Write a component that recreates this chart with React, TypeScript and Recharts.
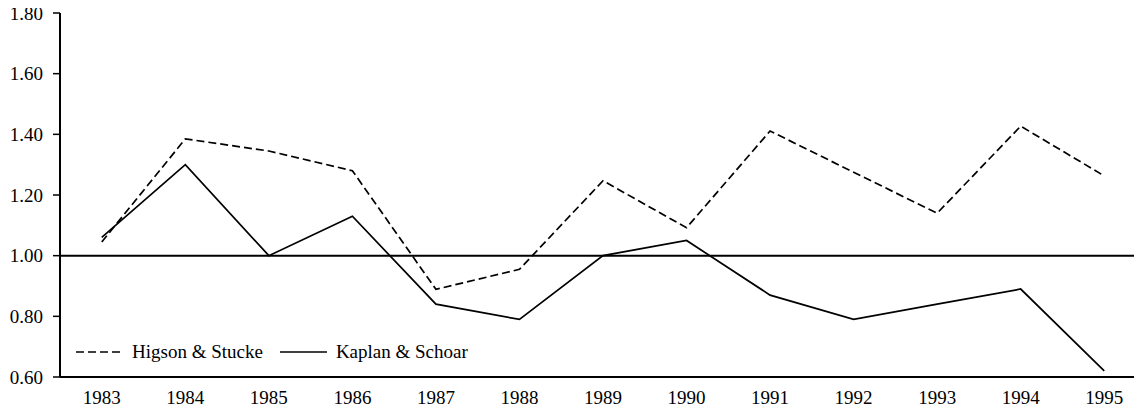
import React from 'react';
import { LineChart, Line, XAxis, YAxis, ReferenceLine, Legend } from 'recharts';

const years = [1983, 1984, 1985, 1986, 1987, 1988, 1989, 1990, 1991, 1992, 1993, 1994, 1995];
const higsonStucke = [1.045, 1.385, 1.345, 1.28, 0.889, 0.955, 1.247, 1.092, 1.411, 1.275, 1.14, 1.427, 1.263];
const kaplanSchoar = [1.06, 1.3, 1.0, 1.13, 0.84, 0.79, 1.0, 1.05, 0.87, 0.79, 0.84, 0.89, 0.62];
const yTicks = [0.6, 0.8, 1.0, 1.2, 1.4, 1.6, 1.8];

const FONT = '"Liberation Serif", "Times New Roman", serif';

// tick marks sit between the years, like a category axis
const bounds = years.map(y => y - 0.5).concat(years[years.length - 1] + 0.5);
const xDomain = [bounds[0], bounds[bounds.length - 1]];

const chartData = years.map((year, i) => ({
  year,
  hs: higsonStucke[i],
  ks: kaplanSchoar[i]
}));

const LegendContent = ({ payload }: any) => (
  <div style={{ display: 'flex', alignItems: 'center', fontFamily: FONT, fontSize: 19, color: '#000' }}>
    {(payload || []).map((entry: any, i: number) => (
      <div key={i} style={{ display: 'flex', alignItems: 'center', marginRight: 17 }}>
        <svg width={47} height={6} style={{ marginRight: 9 }}>
          <line
            x1={0}
            y1={3}
            x2={47}
            y2={3}
            stroke="#000"
            strokeWidth={1.7}
            strokeDasharray={entry.payload?.strokeDasharray}
          />
        </svg>
        <span>{entry.value}</span>
      </div>
    ))}
  </div>
);

const App: React.FC = () => {
  const tickStyle = { fill: '#000', fontSize: 19, fontFamily: FONT };
  return (
    <div style={{ position: 'relative', margin: -8, width: 1142, height: 412, overflow: 'hidden', background: '#fff' }}>
      <LineChart width={1150} height={412} data={chartData} margin={{ top: 13, right: 4, left: 0, bottom: 0 }}>
        <XAxis
          xAxisId="b"
          type="number"
          dataKey="year"
          domain={xDomain}
          ticks={bounds}
          tick={false}
          tickSize={6}
          height={1}
          axisLine={{ stroke: '#000', strokeWidth: 2 }}
          tickLine={{ stroke: '#000', strokeWidth: 1.5 }}
          allowDataOverflow
        />
        <XAxis
          xAxisId="y"
          type="number"
          dataKey="year"
          domain={xDomain}
          ticks={years}
          interval={0}
          axisLine={false}
          tickLine={false}
          tickSize={0}
          tickMargin={13}
          height={34}
          tick={tickStyle}
          allowDataOverflow
        />
        <YAxis
          domain={[0.6, 1.8]}
          ticks={yTicks}
          interval={0}
          width={60}
          tickSize={7}
          tickMargin={10}
          tick={tickStyle}
          tickFormatter={(v) => v.toFixed(2)}
          axisLine={{ stroke: '#000', strokeWidth: 2 }}
          tickLine={{ stroke: '#000', strokeWidth: 1.5 }}
        />
        <ReferenceLine xAxisId="y" y={1} stroke="#000" strokeWidth={2} />
        <Legend
          layout="horizontal"
          verticalAlign="middle"
          align="center"
          content={<LegendContent />}
          wrapperStyle={{ position: 'absolute', left: 76, top: 341, width: 'auto', height: 24 }}
        />
        <Line
          xAxisId="y"
          type="linear"
          dataKey="hs"
          name="Higson & Stucke"
          stroke="#000"
          strokeWidth={1.7}
          strokeDasharray="8 4"
          dot={false}
          activeDot={false}
          isAnimationActive={false}
        />
        <Line
          xAxisId="y"
          type="linear"
          dataKey="ks"
          name="Kaplan & Schoar"
          stroke="#000"
          strokeWidth={1.7}
          dot={false}
          activeDot={false}
          isAnimationActive={false}
        />
      </LineChart>
    </div>
  );
};

export default App;
